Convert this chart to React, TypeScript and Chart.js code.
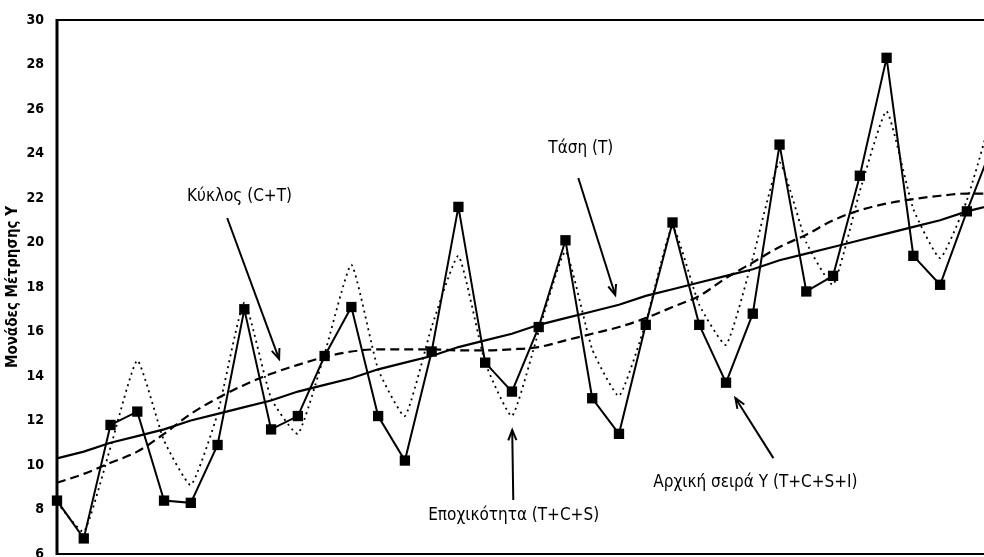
import { useEffect, useRef } from "react";
import { Chart, registerables } from "chart.js";

Chart.register(...registerables);

// ---- data ----
const periods = [
  1, 2, 3, 4, 5, 6, 7, 8, 9, 10, 11, 12, 13, 14, 15, 16, 17, 18,
  19, 20, 21, 22, 23, 24, 25, 26, 27, 28, 29, 30, 31, 32, 33, 34, 35, 36,
];
// Αρχική σειρά Y (T+C+S+I)
const original = [
  8.4, 6.7, 11.8, 12.4, 8.4, 8.3, 10.9, 17.0, 11.6, 12.2, 14.9, 17.1,
  12.2, 10.2, 15.1, 21.6, 14.6, 13.3, 16.2, 20.1, 13.0, 11.4, 16.3, 20.9,
  16.3, 13.7, 16.8, 24.4, 17.8, 18.5, 23.0, 28.3, 19.4, 18.1, 21.4, 24.5,
];
// Εποχικότητα (T+C+S)
const seasonal = [
  8.3, 7.0, 10.8, 14.7, 11.1, 9.1, 12.3, 17.3, 13.0, 11.4, 15.0, 19.0,
  14.3, 12.2, 16.2, 19.4, 14.6, 12.2, 16.0, 19.6, 15.2, 13.1, 16.4, 20.7,
  17.2, 15.4, 19.3, 23.6, 20.0, 18.1, 22.3, 25.9, 21.5, 19.3, 21.9, 26.0,
];
// Κύκλος (C+T)
const cycle = [
  9.2, 9.6, 10.1, 10.6, 11.4, 12.3, 13.0, 13.6, 14.1, 14.5, 14.85, 15.1,
  15.2, 15.2, 15.2, 15.15, 15.15, 15.2, 15.3, 15.6, 15.9, 16.2, 16.6, 17.1,
  17.6, 18.4, 19.1, 19.8, 20.35, 21.0, 21.45, 21.75, 21.95, 22.1, 22.2, 22.2,
];
// Τάση (T)
const trend = [
  10.3, 10.6, 11.0, 11.3, 11.6, 12.0, 12.3, 12.6, 12.9, 13.3, 13.6, 13.9,
  14.3, 14.6, 14.9, 15.3, 15.6, 15.9, 16.3, 16.6, 16.9, 17.2, 17.6, 17.9,
  18.2, 18.5, 18.8, 19.2, 19.5, 19.8, 20.1, 20.4, 20.7, 21.0, 21.4, 21.7,
];
const yTicks = [6, 8, 10, 12, 14, 16, 18, 20, 22, 24, 26, 28, 30];
const yTitle = "Μονάδες Μέτρησης Y";
const labelTexts = [
  "Κύκλος (C+T)",
  "Τάση (T)",
  "Εποχικότητα (T+C+S)",
  "Αρχική σειρά Y (T+C+S+I)",
];

// annotation anchors in data units: text position, arrow tail, arrow tip
const annotations = [
  { text: labelTexts[0], tx: 5.86, ty: 22.05, ax: 7.36, ay: 21.1, bx: 9.3, by: 14.76 },
  { text: labelTexts[1], tx: 19.36, ty: 24.2, ax: 20.48, ay: 22.9, bx: 21.86, by: 17.64 },
  { text: labelTexts[2], tx: 14.87, ty: 7.71, ax: 18.05, ay: 8.43, bx: 18.01, by: 11.57 },
  { text: labelTexts[3], tx: 23.28, ty: 9.19, ax: 27.77, ay: 10.31, bx: 26.35, by: 13.01 },
];

const NARROW = '"Liberation Sans Narrow", "Arial Narrow", "DejaVu Sans Condensed", "Liberation Sans", sans-serif';

const toXY = (vals: number[]) => periods.map((p, i) => ({ x: p, y: vals[i] }));

const framePlugin = {
  id: "frame",
  afterDatasetsDraw(chart: any) {
    const { ctx, chartArea } = chart;
    const { left, right, top, bottom } = chartArea;
    ctx.save();
    ctx.strokeStyle = "#000";
    ctx.lineCap = "butt";
    ctx.lineWidth = 2;
    ctx.beginPath();
    ctx.moveTo(left, top);
    ctx.lineTo(right, top);
    ctx.moveTo(left, bottom);
    ctx.lineTo(right, bottom);
    ctx.stroke();
    ctx.lineWidth = 3;
    ctx.beginPath();
    ctx.moveTo(left, top - 1);
    ctx.lineTo(left, bottom + 1);
    ctx.stroke();
    ctx.restore();
  },
};

const annotationPlugin = {
  id: "annots",
  afterDraw(chart: any) {
    const { ctx } = chart;
    const xs = chart.scales.x;
    const ys = chart.scales.y;
    ctx.save();
    ctx.fillStyle = "#000";
    ctx.strokeStyle = "#000";
    ctx.font = `17px ${NARROW}`;
    ctx.textAlign = "left";
    ctx.textBaseline = "middle";
    annotations.forEach((a) => {
      ctx.fillText(a.text, xs.getPixelForValue(a.tx), ys.getPixelForValue(a.ty));
      const x1 = xs.getPixelForValue(a.ax);
      const y1 = ys.getPixelForValue(a.ay);
      const x2 = xs.getPixelForValue(a.bx);
      const y2 = ys.getPixelForValue(a.by);
      ctx.lineWidth = 2;
      ctx.beginPath();
      ctx.moveTo(x1, y1);
      ctx.lineTo(x2, y2);
      ctx.stroke();
      const ang = Math.atan2(y2 - y1, x2 - x1);
      const len = 11;
      const spread = 0.38;
      ctx.beginPath();
      ctx.moveTo(x2 - len * Math.cos(ang - spread), y2 - len * Math.sin(ang - spread));
      ctx.lineTo(x2, y2);
      ctx.lineTo(x2 - len * Math.cos(ang + spread), y2 - len * Math.sin(ang + spread));
      ctx.stroke();
    });
    ctx.restore();
  },
};

export default function App() {
  const ref = useRef<HTMLCanvasElement | null>(null);
  useEffect(() => {
    if (!ref.current) return;
    const chart = new Chart(ref.current, {
      type: "line",
      data: {
        datasets: [
          {
            label: labelTexts[3],
            data: toXY(original),
            borderColor: "#000",
            backgroundColor: "#000",
            borderWidth: 2,
            pointStyle: "rect",
            pointRadius: 7.3,
            pointBorderWidth: 0,
            tension: 0,
            clip: false,
          },
          {
            label: labelTexts[1],
            data: toXY(trend),
            borderColor: "#000",
            borderWidth: 2.2,
            pointRadius: 0,
            tension: 0,
            clip: false,
          },
          {
            label: labelTexts[0],
            data: toXY(cycle),
            borderColor: "#000",
            borderWidth: 2.2,
            borderDash: [9, 5],
            pointRadius: 0,
            cubicInterpolationMode: "monotone",
            clip: false,
          },
          {
            label: labelTexts[2],
            data: toXY(seasonal),
            borderColor: "#000",
            borderWidth: 1.8,
            borderDash: [2, 4],
            pointRadius: 0,
            tension: 0.15,
            clip: false,
          },
        ],
      },
      options: {
        animation: false,
        responsive: false,
        events: [],
        layout: { autoPadding: false, padding: { top: 20, right: 0, bottom: 3, left: 0 } },
        plugins: {
          legend: { display: false },
          tooltip: { enabled: false },
          title: { display: false },
        },
        scales: {
          x: {
            type: "linear",
            min: 1,
            max: 35.64,
            display: false,
          },
          y: {
            type: "linear",
            min: 6,
            max: 30,
            afterBuildTicks: (scale: any) => {
              scale.ticks = yTicks.map((v) => ({ value: v }));
            },
            afterFit: (scale: any) => {
              scale.width = 57;
              scale.paddingTop = 0;
              scale.paddingBottom = 0;
            },
            grid: { display: false, drawTicks: false },
            border: { display: false },
            ticks: {
              color: "#000",
              padding: 13,
              font: { family: NARROW, size: 14, weight: "bold" },
            },
            title: {
              display: true,
              text: yTitle,
              color: "#000",
              padding: { top: 4, bottom: 0 },
              font: { family: NARROW, size: 15, weight: "bold" },
            },
          },
        },
      },
      plugins: [framePlugin, annotationPlugin],
    } as any);
    return () => chart.destroy();
  }, []);

  return (
    <div style={{ position: "fixed", left: 0, top: 0, width: 984, height: 557, background: "#fff" }}>
      <canvas ref={ref} width={984} height={557} style={{ display: "block" }} />
    </div>
  );
}
